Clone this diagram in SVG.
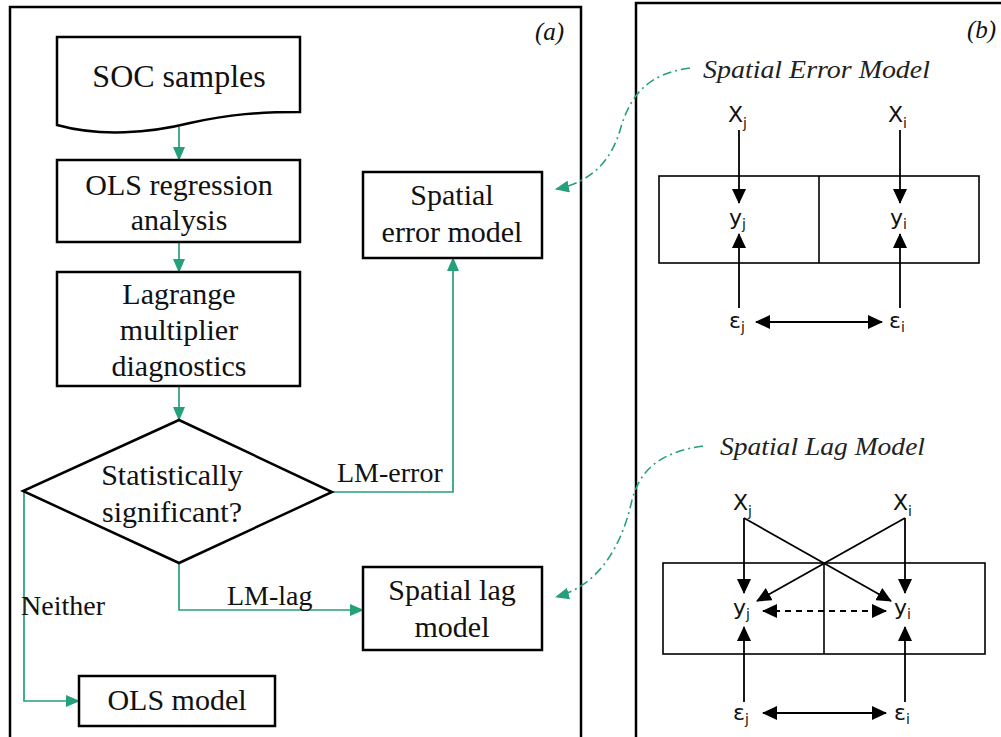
<svg xmlns="http://www.w3.org/2000/svg" width="1001" height="737" viewBox="0 0 1001 737">
<style>
.panel{fill:none;stroke:#000;stroke-width:2.5}
.node{fill:#fff;stroke:#000;stroke-width:2.5}
.t{font-family:"Liberation Serif","Times New Roman",serif;font-size:30px;fill:#111;text-anchor:middle}
.lbl{font-family:"Liberation Serif","Times New Roman",serif;font-size:28px;fill:#111}
.tag{font-family:"Liberation Serif","Times New Roman",serif;font-size:25px;font-style:italic;fill:#111}
.g{fill:none;stroke:#26a07a;stroke-width:1.7}
.gd{fill:none;stroke:#26a07a;stroke-width:1.6;stroke-dasharray:9,4,2,4}
.b{fill:none;stroke:#000;stroke-width:1.8}
.bd{fill:none;stroke:#000;stroke-width:1.8;stroke-dasharray:6,5}
.thin{fill:none;stroke:#000;stroke-width:1.6}
.v{font-family:"DejaVu Sans","Liberation Sans",sans-serif;font-size:22px;fill:#111}
.s{font-size:14px}
.title{font-family:"Liberation Serif","Times New Roman",serif;font-size:25px;font-style:italic;fill:#222}
</style>
<defs>
<marker id="ga" markerUnits="userSpaceOnUse" markerWidth="14" markerHeight="12" refX="13" refY="6" orient="auto"><path d="M0,0 L14,6 L0,12 z" fill="#26a07a"/></marker>
<marker id="ba" markerUnits="userSpaceOnUse" markerWidth="15" markerHeight="14" refX="14" refY="7" orient="auto"><path d="M0,0 L15,7 L0,14 z" fill="#000"/></marker>
<marker id="bs" markerUnits="userSpaceOnUse" markerWidth="15" markerHeight="14" refX="1" refY="7" orient="auto"><path d="M15,0 L0,7 L15,14 z" fill="#000"/></marker>
</defs>
<rect width="1001" height="737" fill="#fff"/>

<g id="panel-a">
<rect class="panel" x="10" y="7" width="571" height="760"/>
<text class="tag" x="535" y="40">(a)</text>
</g>
<g id="panel-b">
<rect class="panel" x="636" y="3" width="400" height="760"/>
<text class="tag" x="967" y="38">(b)</text>
</g>

<g id="connectors">
<line class="g" x1="179" y1="127" x2="179" y2="160" marker-end="url(#ga)"/>
<line class="g" x1="179" y1="242" x2="179" y2="272" marker-end="url(#ga)"/>
<line class="g" x1="179" y1="386" x2="179" y2="420" marker-end="url(#ga)"/>
<polyline class="g" points="332,492 453,492 453,258" marker-end="url(#ga)"/>
<polyline class="g" points="179,563 179,610 363,610" marker-end="url(#ga)"/>
<polyline class="g" points="24,491 24,701 79,701" marker-end="url(#ga)"/>
<path class="gd" d="M690,68 C645,74 630,98 621,127 C612,160 592,182 556,189" marker-end="url(#ga)"/>
<path class="gd" d="M703,446 C660,452 640,470 632,500 C622,545 600,585 556,597" marker-end="url(#ga)"/>
</g>

<g id="edge-labels">
<text class="lbl" x="337" y="482">LM-error</text>
<text class="lbl" x="227" y="605">LM-lag</text>
<text class="lbl" x="21" y="615">Neither</text>
</g>

<g id="soc-samples">
<path class="node" d="M57,37 L300,37 L300,112 C260,112 230,114 190,123 C150,133 100,137 57,125 Z"/>
<text class="t" x="179" y="87" style="font-size:32px">SOC samples</text>
</g>
<g id="ols-regression">
<rect class="node" x="57" y="160" width="243" height="82"/>
<text class="t" x="179" y="195">OLS regression</text>
<text class="t" x="179" y="230">analysis</text>
</g>
<g id="lagrange">
<rect class="node" x="57" y="272" width="243" height="114"/>
<text class="t" x="179" y="304">Lagrange</text>
<text class="t" x="179" y="340">multiplier</text>
<text class="t" x="179" y="376">diagnostics</text>
</g>
<g id="decision">
<polygon class="node" points="179,420 332,492 179,563 23,491"/>
<text class="t" x="172" y="485">Statistically</text>
<text class="t" x="172" y="522">significant?</text>
</g>
<g id="spatial-error-model">
<rect class="node" x="363" y="172" width="179" height="86"/>
<text class="t" x="452" y="205">Spatial</text>
<text class="t" x="452" y="242">error model</text>
</g>
<g id="spatial-lag-model">
<rect class="node" x="363" y="567" width="179" height="83"/>
<text class="t" x="452" y="600">Spatial lag</text>
<text class="t" x="452" y="637">model</text>
</g>
<g id="ols-model">
<rect class="node" x="79" y="676" width="196" height="50"/>
<text class="t" x="177" y="710">OLS model</text>
</g>

<g id="sem-diagram">
<text class="title" x="703" y="78" textLength="227" lengthAdjust="spacingAndGlyphs">Spatial Error Model</text>
<rect class="thin" x="659" y="176" width="320" height="87"/>
<line class="thin" x1="819" y1="176" x2="819" y2="263"/>
<text class="v" x="728" y="122">X<tspan class="s" dy="6">j</tspan></text>
<text class="v" x="888" y="122">X<tspan class="s" dy="6">i</tspan></text>
<text class="v" x="729" y="225">y<tspan class="s" dy="4">j</tspan></text>
<text class="v" x="890" y="225">y<tspan class="s" dy="4">i</tspan></text>
<text class="v" x="729" y="328">ε<tspan class="s" dy="4">j</tspan></text>
<text class="v" x="889" y="328">ε<tspan class="s" dy="4">i</tspan></text>
<line class="b" x1="739" y1="130" x2="739" y2="203" marker-end="url(#ba)"/>
<line class="b" x1="900" y1="130" x2="900" y2="203" marker-end="url(#ba)"/>
<line class="b" x1="739" y1="308" x2="739" y2="234" marker-end="url(#ba)"/>
<line class="b" x1="900" y1="308" x2="900" y2="234" marker-end="url(#ba)"/>
<line class="b" x1="756" y1="322" x2="882" y2="322" marker-start="url(#bs)" marker-end="url(#ba)"/>
</g>

<g id="slm-diagram">
<text class="title" x="720" y="455" textLength="205" lengthAdjust="spacingAndGlyphs">Spatial Lag Model</text>
<rect class="thin" x="663" y="563" width="322" height="91"/>
<line class="thin" x1="824" y1="563" x2="824" y2="654"/>
<text class="v" x="733" y="510">X<tspan class="s" dy="6">j</tspan></text>
<text class="v" x="893" y="510">X<tspan class="s" dy="6">i</tspan></text>
<text class="v" x="733" y="615">y<tspan class="s" dy="4">j</tspan></text>
<text class="v" x="894" y="615">y<tspan class="s" dy="4">i</tspan></text>
<text class="v" x="733" y="720">ε<tspan class="s" dy="4">j</tspan></text>
<text class="v" x="894" y="720">ε<tspan class="s" dy="4">i</tspan></text>
<line class="b" x1="744" y1="518" x2="744" y2="593" marker-end="url(#ba)"/>
<line class="b" x1="905" y1="518" x2="905" y2="593" marker-end="url(#ba)"/>
<line class="b" x1="744" y1="518" x2="891" y2="601" marker-end="url(#ba)"/>
<line class="b" x1="905" y1="518" x2="757" y2="601" marker-end="url(#ba)"/>
<line class="bd" x1="763" y1="611" x2="886" y2="611" marker-start="url(#bs)" marker-end="url(#ba)"/>
<line class="b" x1="744" y1="702" x2="744" y2="627" marker-end="url(#ba)"/>
<line class="b" x1="905" y1="702" x2="905" y2="627" marker-end="url(#ba)"/>
<line class="b" x1="763" y1="713" x2="886" y2="713" marker-start="url(#bs)" marker-end="url(#ba)"/>
</g>
</svg>
